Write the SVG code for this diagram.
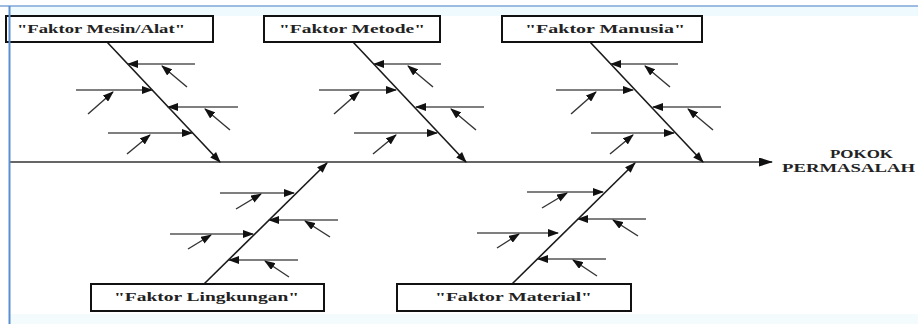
<svg xmlns="http://www.w3.org/2000/svg" width="918" height="324" viewBox="0 0 918 324">
<defs>
<marker id="ah" markerUnits="userSpaceOnUse" markerWidth="11" markerHeight="8" refX="10" refY="4" orient="auto">
<path d="M0,0 L11,4 L0,8 z" fill="#111"/>
</marker>
<marker id="ahBig" markerUnits="userSpaceOnUse" markerWidth="14" markerHeight="9" refX="13" refY="4.5" orient="auto">
<path d="M0,0 L14,4.5 L0,9 z" fill="#111"/>
</marker>
<style>
.bone{stroke:#1a1a1a;stroke-width:1.6;fill:none;marker-end:url(#ah)}
.sub{stroke:#555;stroke-width:1.3;fill:none;marker-end:url(#ah)}
.dg{stroke:#333;stroke-width:1.4;fill:none;marker-end:url(#ah)}
.box{fill:#fff;stroke:#111;stroke-width:2}
.lbl{font-family:"Liberation Serif","Times New Roman",serif;font-weight:bold;font-size:12px;fill:#222}
</style>
</defs>
<rect x="0" y="0" width="918" height="324" fill="#fff"/>
<rect x="9" y="6" width="909" height="10" fill="#eefafd"/>
<rect x="9" y="314" width="909" height="10" fill="#f4fbfd"/>

<g id="connectors">
<line x1="10" y1="162" x2="772" y2="162" stroke="#333" stroke-width="1.5" marker-end="url(#ahBig)"/>
<!-- bone 1 -->
<line class="bone" x1="107" y1="42" x2="220" y2="162"/>
<line class="sub" x1="195" y1="64" x2="128" y2="64"/>
<line class="dg" x1="187" y1="87" x2="162" y2="66"/>
<line class="sub" x1="76" y1="90" x2="152" y2="90"/>
<line class="dg" x1="88" y1="114" x2="113" y2="92"/>
<line class="sub" x1="238" y1="107" x2="168" y2="107"/>
<line class="dg" x1="230" y1="130" x2="205" y2="109"/>
<line class="sub" x1="108" y1="133" x2="192" y2="133"/>
<line class="dg" x1="127" y1="154" x2="150" y2="135"/>
<!-- bone 2 -->
<line class="bone" x1="353" y1="42" x2="466" y2="162"/>
<line class="sub" x1="441" y1="64" x2="374" y2="64"/>
<line class="dg" x1="433" y1="87" x2="408" y2="66"/>
<line class="sub" x1="319" y1="90" x2="396" y2="90"/>
<line class="dg" x1="334" y1="114" x2="359" y2="92"/>
<line class="sub" x1="484" y1="107" x2="416" y2="107"/>
<line class="dg" x1="476" y1="130" x2="451" y2="109"/>
<line class="sub" x1="354" y1="133" x2="437" y2="133"/>
<line class="dg" x1="373" y1="154" x2="396" y2="135"/>
<!-- bone 3 -->
<line class="bone" x1="590" y1="42" x2="703" y2="162"/>
<line class="sub" x1="678" y1="64" x2="611" y2="64"/>
<line class="dg" x1="670" y1="87" x2="645" y2="66"/>
<line class="sub" x1="556" y1="90" x2="633" y2="90"/>
<line class="dg" x1="571" y1="114" x2="596" y2="92"/>
<line class="sub" x1="721" y1="107" x2="653" y2="107"/>
<line class="dg" x1="713" y1="130" x2="688" y2="109"/>
<line class="sub" x1="591" y1="133" x2="674" y2="133"/>
<line class="dg" x1="610" y1="154" x2="633" y2="135"/>
<!-- bone 4 -->
<line class="bone" x1="204" y1="284" x2="327" y2="163"/>
<line class="sub" x1="220" y1="193" x2="294" y2="193"/>
<line class="dg" x1="236" y1="209" x2="261" y2="194"/>
<line class="sub" x1="338" y1="220" x2="269" y2="220"/>
<line class="dg" x1="330" y1="237" x2="305" y2="221"/>
<line class="sub" x1="170" y1="234" x2="253" y2="234"/>
<line class="dg" x1="188" y1="249" x2="211" y2="235"/>
<line class="sub" x1="298" y1="260" x2="229" y2="260"/>
<line class="dg" x1="289" y1="277" x2="265" y2="261"/>
<!-- bone 5 -->
<line class="bone" x1="512" y1="284" x2="635" y2="163"/>
<line class="sub" x1="527" y1="192" x2="603" y2="192"/>
<line class="dg" x1="542" y1="208" x2="567" y2="193"/>
<line class="sub" x1="646" y1="219" x2="578" y2="219"/>
<line class="dg" x1="638" y1="236" x2="613" y2="220"/>
<line class="sub" x1="477" y1="233" x2="558" y2="233"/>
<line class="dg" x1="497" y1="248" x2="519" y2="234"/>
<line class="sub" x1="606" y1="259" x2="538" y2="259"/>
<line class="dg" x1="597" y1="276" x2="573" y2="260"/>
</g>

<g id="node-mesin">
<rect class="box" x="6" y="16" width="207" height="26"/>
<text class="lbl" x="17" y="33" textLength="168" lengthAdjust="spacingAndGlyphs">"Faktor Mesin/Alat"</text>
</g>
<g id="node-metode">
<rect class="box" x="264" y="16" width="176" height="26"/>
<text class="lbl" x="279" y="33" textLength="146" lengthAdjust="spacingAndGlyphs">"Faktor Metode"</text>
</g>
<g id="node-manusia">
<rect class="box" x="502" y="16" width="200" height="26"/>
<text class="lbl" x="525" y="33" textLength="160" lengthAdjust="spacingAndGlyphs">"Faktor Manusia"</text>
</g>
<g id="node-lingkungan">
<rect class="box" x="91" y="284" width="233" height="27"/>
<text class="lbl" x="114" y="301" textLength="185" lengthAdjust="spacingAndGlyphs">"Faktor Lingkungan"</text>
</g>
<g id="node-material">
<rect class="box" x="397" y="284" width="234" height="27"/>
<text class="lbl" x="435" y="301" textLength="157" lengthAdjust="spacingAndGlyphs">"Faktor Material"</text>
</g>
<g id="node-pokok">
<text class="lbl" x="830" y="158" font-size="11" textLength="63" lengthAdjust="spacingAndGlyphs">POKOK</text>
<text class="lbl" x="782" y="172" font-size="11" textLength="133" lengthAdjust="spacingAndGlyphs">PERMASALAH</text>
</g>

<line x1="0" y1="6" x2="918" y2="6" stroke="#7fa6d6" stroke-width="1.5"/>
<line x1="9.5" y1="6" x2="9.5" y2="324" stroke="#5b8fd0" stroke-width="2"/>
</svg>
